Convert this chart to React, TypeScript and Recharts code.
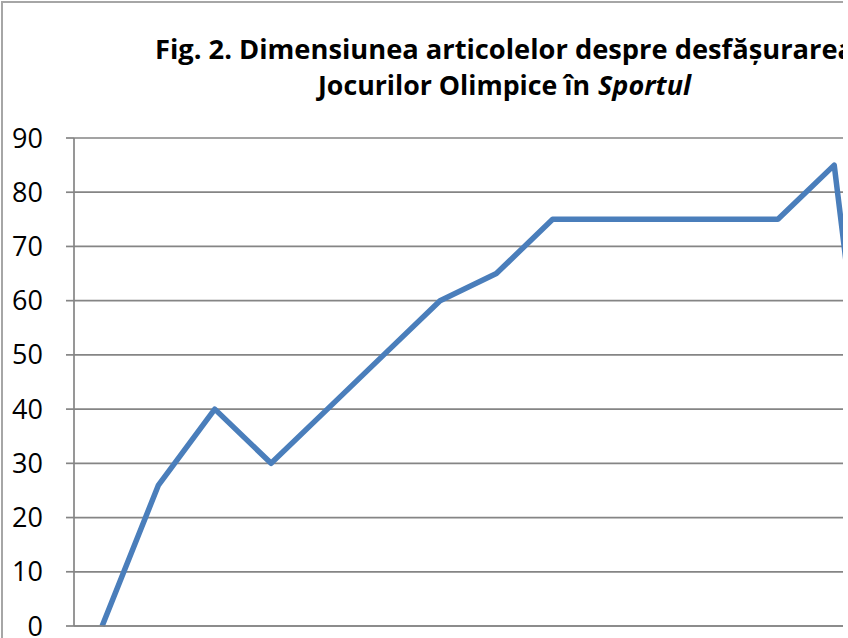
import React from "react";
import { LineChart, Line, XAxis, YAxis, CartesianGrid } from "recharts";

const categories = ["1", "2", "3", "4", "5", "6", "7", "8", "9", "10", "11", "12", "13", "14", "15", "16"];
const values = [0, 26, 40, 30, 40, 50, 60, 65, 75, 75, 75, 75, 75, 85, 0, 0];
const yTicks = [0, 10, 20, 30, 40, 50, 60, 70, 80, 90];
const titleLine1 = "Fig. 2. Dimensiunea articolelor despre desfășurarea";
const titleLine2a = "Jocurilor Olimpice în";
const titleLine2b = "Sportul";

const data = categories.map((c, i) => ({ name: c, pos: i + 0.5, value: values[i] }));
const xTicks = [0, ...categories.map((_, i) => i + 1)];

export default function App() {
  return (
    <div
      style={{
        position: "absolute",
        left: 0,
        top: 0,
        width: 843,
        height: 638,
        overflow: "hidden",
        background: "#fff",
      }}
    >
      <div
        style={{
          position: "absolute",
          left: 1,
          top: 1,
          width: 1010,
          height: 700,
          border: "2px solid #a6a6a6",
          boxSizing: "border-box",
        }}
      />
      <div style={{ position: "absolute", left: 0, top: 0 }}>
        <LineChart
          width={1010}
          height={700}
          data={data}
          margin={{ top: 138, right: 35, bottom: 44, left: 0 }}
        >
          <CartesianGrid vertical={false} stroke="#858585" strokeWidth={1.7} />
          <XAxis
            dataKey="pos"
            type="number"
            domain={[0, categories.length]}
            ticks={xTicks}
            tick={false}
            tickSize={8}
            height={30}
            stroke="#858585"
            strokeWidth={1.7}
          />
          <YAxis
            type="number"
            domain={[0, 90]}
            ticks={yTicks}
            width={74}
            tickSize={8}
            tickMargin={23}
            stroke="#858585"
            strokeWidth={1.7}
            tick={{ fill: "#000", fontSize: 27, fontFamily: "Open Sans" }}
            interval={0}
          />
          <Line
            type="linear"
            dataKey="value"
            stroke="#4a7ebb"
            strokeWidth={5.5}
            strokeLinejoin="round"
            dot={false}
            activeDot={false}
            isAnimationActive={false}
          />
        </LineChart>
      </div>
      <svg
        width={843}
        height={120}
        style={{ position: "absolute", left: 0, top: 0 }}
      >
        <text
          x={155}
          y={59}
          fontFamily="Open Sans"
          fontWeight="bold"
          fontSize={26.5}
          fill="#000"
          textLength={699}
          lengthAdjust="spacingAndGlyphs"
        >
          {titleLine1}
        </text>
        <text
          x={318}
          y={95}
          fontFamily="Open Sans"
          fontWeight="bold"
          fontSize={26.5}
          fill="#000"
          textLength={272}
          lengthAdjust="spacingAndGlyphs"
        >
          {titleLine2a}
        </text>
        <text
          x={598}
          y={95}
          fontFamily="Open Sans"
          fontWeight="bold"
          fontStyle="italic"
          fontSize={26.5}
          fill="#000"
          textLength={93}
          lengthAdjust="spacingAndGlyphs"
        >
          {titleLine2b}
        </text>
      </svg>
    </div>
  );
}
